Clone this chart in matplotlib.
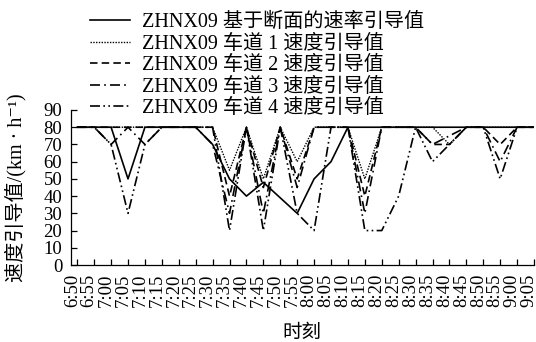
import matplotlib
matplotlib.use("Agg")
import matplotlib.pyplot as plt
from matplotlib import transforms

plt.rcParams['font.family'] = ['Liberation Serif', 'Noto Sans CJK SC', 'DejaVu Serif']

times = ['6:50', '6:55', '7:00', '7:05', '7:10', '7:15', '7:20', '7:25',
         '7:30', '7:35', '7:40', '7:45', '7:50', '7:55', '8:00', '8:05',
         '8:10', '8:15', '8:20', '8:25', '8:30', '8:35', '8:40', '8:45',
         '8:50', '8:55', '9:00', '9:05']

# speed guidance values (km/h)
section = [80, 80, 80, 50, 80, 80, 80, 80, 70, 50, 40, 48, 39, 30,
           50, 60, 80, 80, 80, 80, 80, 80, 80, 80, 80, 80, 80, 80]
lane1 = [80, 80, 80, 80, 80, 80, 80, 80, 80, 55, 80, 50, 80, 60,
         80, 80, 80, 50, 80, 80, 80, 80, 70, 80, 80, 80, 80, 80]
lane2 = [80, 80, 80, 80, 80, 80, 80, 80, 80, 40, 80, 45, 80, 50,
         80, 80, 80, 40, 80, 80, 80, 70, 70, 80, 80, 70, 80, 80]
lane3 = [80, 80, 70, 80, 70, 80, 80, 80, 70, 30, 80, 30, 80, 45,
         80, 80, 80, 30, 80, 80, 80, 70, 75, 80, 80, 60, 80, 80]
lane4 = [80, 80, 70, 30, 70, 80, 80, 80, 80, 20, 80, 20, 80, 30,
         20, 80, 80, 20, 20, 40, 80, 60, 70, 80, 80, 50, 80, 80]

labels = ['ZHNX09 基于断面的速率引导值', 'ZHNX09 车道 1 速度引导值',
          'ZHNX09 车道 2 速度引导值', 'ZHNX09 车道 3 速度引导值',
          'ZHNX09 车道 4 速度引导值']

fig = plt.figure(figsize=(5.36, 3.42), dpi=100)
ax = fig.add_axes([70.5 / 536, 77 / 342, 463.5 / 536, 155 / 342])

x = list(range(len(times)))
ax.plot(x, lane1, color='black', lw=1.0, ls=(0, (1, 1)), label=labels[1])
ax.plot(x, lane2, color='black', lw=1.2, ls=(0, (4.5, 2.5)), label=labels[2])
ax.plot(x, lane3, color='black', lw=1.2, ls=(0, (6, 2.5, 1, 2.5)), label=labels[3])
ax.plot(x, lane4, color='black', lw=1.2, ls=(0, (6, 2, 1, 2, 1, 2)), label=labels[4])
ax.plot(x, section, color='black', lw=1.2, ls='-', label=labels[0])

ax.set_xlim(-0.4, 27)
ax.set_ylim(0, 90)
ax.set_yticks(range(0, 91, 10))
ax.set_xticks(x)
ax.set_xticklabels(times, rotation=90, fontsize=13.5)
ax.tick_params(axis='both', direction='in', length=4, width=0.9, colors='black')
ax.tick_params(axis='y', labelsize=13.5, pad=6)
ax.tick_params(axis='x', pad=6)
for lab in ax.get_xticklabels():
    lab.set_transform(lab.get_transform() + transforms.ScaledTranslation(-5 / 100, 0, fig.dpi_scale_trans))

for s in ['top', 'right']:
    ax.spines[s].set_visible(False)
for s in ['left', 'bottom']:
    ax.spines[s].set_linewidth(0.9)

ax.set_xlabel('时刻', fontsize=14)
ax.xaxis.set_label_coords(0.5, -0.385)
ax.set_ylabel('速度引导值/(km · h⁻¹)', fontsize=14.5)
ax.yaxis.set_label_coords(-0.096, 0.5)

h, l = ax.get_legend_handles_labels()
order = [4, 0, 1, 2, 3]
fig.legend([h[i] for i in order], [l[i] for i in order], loc='upper left',
           bbox_to_anchor=(90 / 536, 1 - 13 / 342), frameon=False, fontsize=14.5,
           handlelength=2.0, handletextpad=0.6, labelspacing=0.12, borderpad=0,
           borderaxespad=0)

fig.savefig('out.png', dpi=100)
